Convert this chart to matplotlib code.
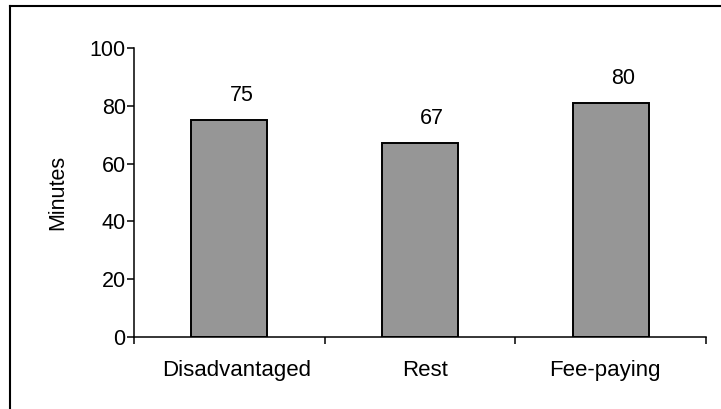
import numpy as np
import matplotlib
matplotlib.use('Agg')
import matplotlib.pyplot as plt
import matplotlib.transforms as mtransforms
from matplotlib.lines import Line2D

# Data
groups = ['Disadvantaged', 'Rest', 'Fee-paying']
minutes = [75, 67, 80.8]          # bar heights as drawn
value_labels = ['75', '67', '80'] # labels printed above the bars
yticks = [0, 20, 40, 60, 80, 100]

plt.rcParams['font.family'] = ['Liberation Sans', 'DejaVu Sans']

W, H = 721, 409
fig = plt.figure(figsize=(W / 100, H / 100), dpi=100)
ax = fig.add_axes([134 / W, (H - 337) / H, (706 - 134) / W, (337 - 48) / H])

x = np.arange(len(groups))
ax.bar(x, minutes, width=0.4, color='#969696', edgecolor='black', linewidth=1.4, zorder=2)

# value labels sit a bit right of the bar centre, as in the original
for xi, v, lab in zip(x, minutes, value_labels):
    ax.annotate(lab, (xi, v), xytext=(8.7, 18), textcoords='offset points',
                ha='center', va='center', fontsize=15.5)

ax.set_xlim(-0.5, len(groups) - 0.5)
ax.set_ylim(0, 100)
ax.set_yticks(yticks)
ax.set_xticks(x)
ax.set_xticklabels(groups)
ax.set_xticks(np.arange(len(groups) + 1) - 0.5, minor=True)

ax.tick_params(axis='x', which='major', length=0, pad=16.5, labelsize=16)
ax.tick_params(axis='x', which='minor', length=5, width=1.1, direction='out')
ax.tick_params(axis='y', length=5, width=1.1, direction='out', pad=1, labelsize=15.5)

# the category labels in the original sit a little off-centre
shifts_px = [7, 5, -5.5]
for lab, dx in zip(ax.get_xticklabels(), shifts_px):
    lab.set_transform(lab.get_transform() + mtransforms.ScaledTranslation(dx / 100, 0, fig.dpi_scale_trans))

for s in ['top', 'right']:
    ax.spines[s].set_visible(False)
for s in ['left', 'bottom']:
    ax.spines[s].set_linewidth(1.1)

ax.set_ylabel('Minutes', fontsize=15.5, va='center')
ax.yaxis.set_label_coords(-0.133, 0.5)

# frame around the chart (only left and top edges fall inside the image)
fig.add_artist(Line2D([9.5 / W, 9.5 / W], [0, (H - 5.5) / H], color='black', linewidth=1.5))
fig.add_artist(Line2D([9.5 / W, 1], [(H - 5.5) / H, (H - 5.5) / H], color='black', linewidth=1.5))

fig.savefig('out.png', dpi=100)
